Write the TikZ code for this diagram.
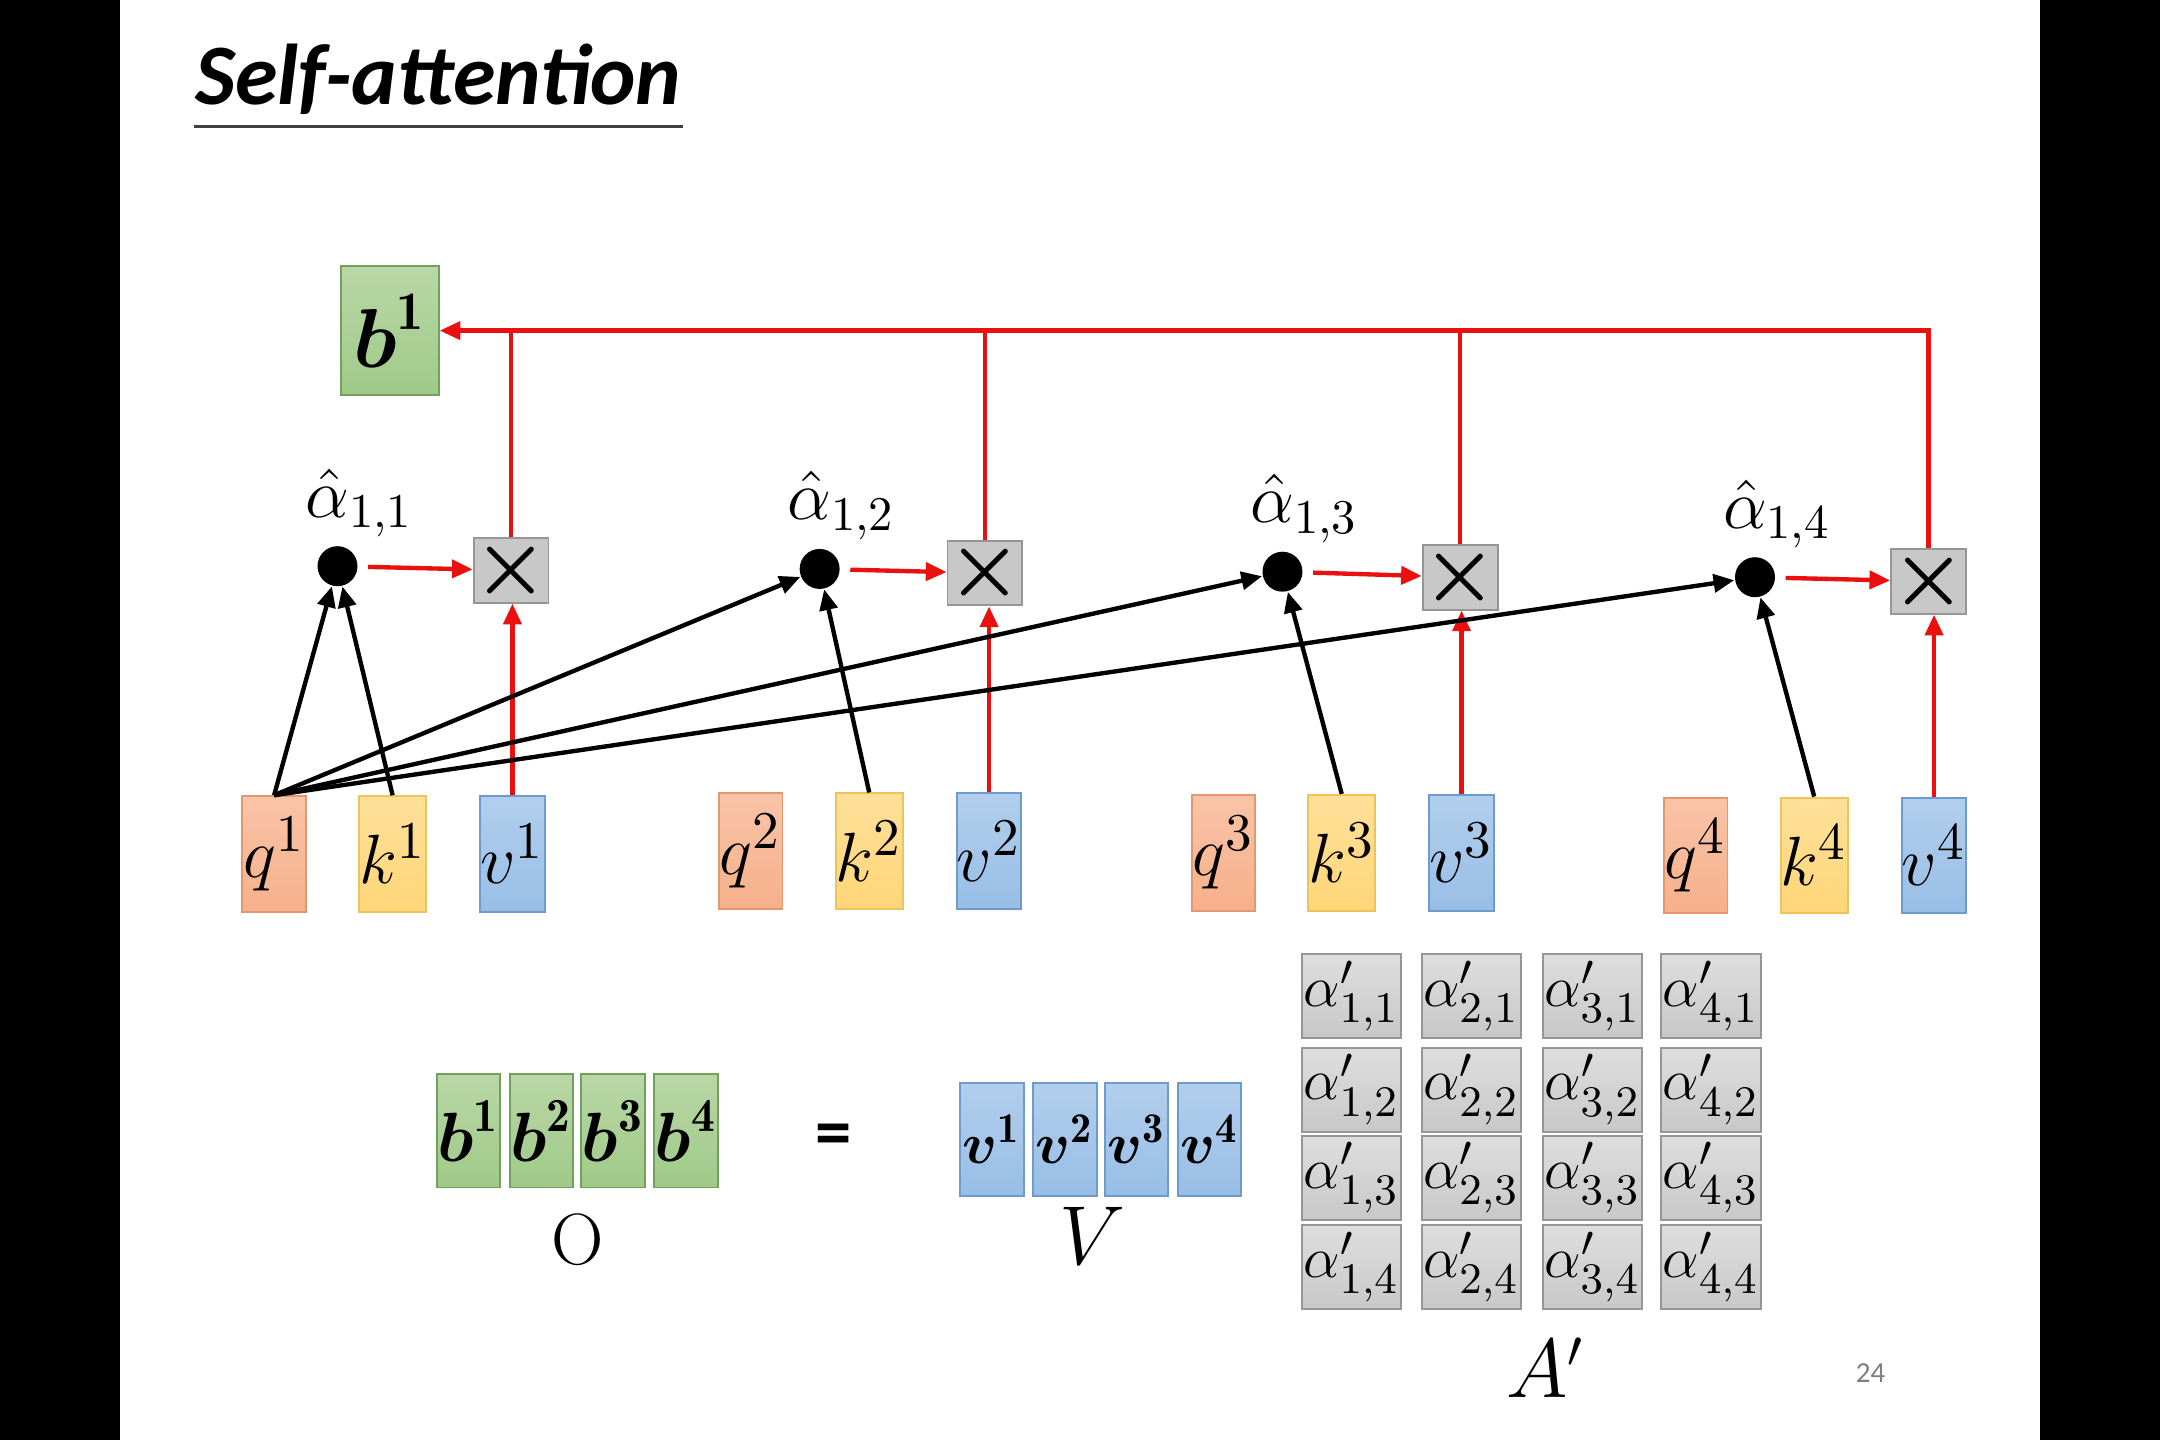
\documentclass[tikz,border=0pt]{standalone}
\usepackage{fontspec}
\newfontfamily\titlefont{Carlito}
\usepackage{amsmath}
\usepackage{xcolor}
\usetikzlibrary{arrows.meta, positioning, calc}
\definecolor{qorange}{RGB}{246, 176, 138}
\definecolor{qedge}{RGB}{228, 150, 110}
\definecolor{kyellow}{RGB}{255, 214, 120}
\definecolor{kedge}{RGB}{238, 196, 90}
\definecolor{vblue}{RGB}{152, 190, 230}
\definecolor{vedge}{RGB}{110, 155, 205}
\definecolor{bgreen}{RGB}{160, 202, 136}
\definecolor{bedge}{RGB}{115, 160, 95}
\definecolor{cellgray}{RGB}{200, 200, 200}
\definecolor{celledge}{RGB}{150, 150, 150}
\definecolor{linered}{RGB}{234, 16, 16}

\begin{document}
\begin{tikzpicture}[x=0.01cm, y=-0.01cm,
        arr/.style={-{Triangle[length=1.5mm, width=1.3mm]}, line width=0.9pt},
        redarr/.style={arr, linered},
        vec/.style={draw, minimum width=0.46cm, minimum height=0.84cm,
                    inner sep=0pt, font=\fontsize{15}{17}\selectfont},
        qbox/.style={vec, draw=qedge, top color=qorange!75!white, bottom color=qorange},
        kbox/.style={vec, draw=kedge, top color=kyellow!75!white, bottom color=kyellow},
        vbox/.style={vec, draw=vedge, top color=vblue!75!white, bottom color=vblue},
        bbox/.style={vec, draw=bedge, top color=bgreen!75!white, bottom color=bgreen},
        cell/.style={draw=celledge, top color=cellgray!60!white, bottom color=cellgray,
                     minimum width=0.72cm, minimum height=0.61cm, inner sep=0pt,
                     font=\fontsize{13}{14}\selectfont},
        mult/.style={draw=celledge, fill=cellgray, minimum width=0.44cm,
                     minimum height=0.47cm, inner sep=0pt},
        dot/.style={circle, fill=black, minimum size=0.29cm, inner sep=0pt}
      ]
        % Slide
        \fill[black] (0, 0) rectangle (1568, 1045);
        \fill[white] (87, 0) rectangle (1481, 1045);
        \node[font=\titlefont\bfseries\itshape\fontsize{17.8}{20}\selectfont,
              anchor=base west, inner sep=0pt] (title) at (141, 76) {Self-attention};
        \draw[line width=0.6pt, black!75] ([yshift=-0.16cm]title.base west)
          -- ([yshift=-0.16cm]title.base east);

        % Output b1
        \node[bbox, minimum width=0.71cm, minimum height=0.94cm,
              font=\fontsize{16}{18}\selectfont] (b1) at (283, 240) {$\boldsymbol{b}^{\mathbf{1}}$};

        % q, k, v
        \foreach \i/\x/\y in {1/199/620, 2/545/618, 3/888/619, 4/1231/621}{
          \node[qbox] (q\i) at (\x, \y) {$q^{\i}$};
          \node[kbox] (k\i) at (\x+86, \y) {$k^{\i}$};
          \node[vbox] (v\i) at (\x+173, \y) {$v^{\i}$};
        }

        % Scores
        \foreach \i/\x/\y in {1/245/411, 2/595/413, 3/931/415, 4/1274/419}{
          \node[dot] (a\i) at (\x, \y) {};
          \node[font=\fontsize{14}{15}\selectfont] (s\i) at (\x+16, \y-46)
            {$\hat{\alpha}_{1,\i}$};
        }

        % Products
        \foreach \i/\x/\y in {1/371/414, 2/715/416, 3/1060/419, 4/1400/422}{
          \node[mult] (m\i) at (\x, \y) {\fontsize{18}{18}\selectfont$\boldsymbol{\times}$};
        }

        % Connections
        \foreach \i in {1,...,4}{
          \draw[arr] (q1.north) -- (a\i);
          \draw[arr] (k\i.north) -- (a\i);
          \draw[redarr, shorten <=2pt] (a\i) -- (m\i);
          \draw[redarr] (v\i.north) -- (v\i.north |- m\i.south);
        }
        \foreach \i in {1,2,3}{
          \draw[linered, line width=0.9pt] (m\i.north) -- (m\i.north |- b1.east);
        }
        \draw[redarr] (m4.north) |- (b1.east);

        % O = V A'
        \foreach \i/\x in {1/340, 2/393, 3/445, 4/498}{
          \node[bbox, font=\fontsize{14}{16}\selectfont, minimum height=0.82cm]
            (o\i) at (\x, 821) {$\boldsymbol{b}^{\mathbf{\i}}$};
        }
        \node[font=\fontsize{15}{17}\selectfont] (olbl) at (419, 900) {$\mathrm{O}$};
        \node[font=\titlefont\bfseries\fontsize{15}{17}\selectfont] (eq) at (605, 828) {=};
        \foreach \i/\x in {1/720, 2/773, 3/825, 4/878}{
          \node[vbox, font=\fontsize{12.5}{15}\selectfont, minimum height=0.82cm]
            (w\i) at (\x, 827) {$\boldsymbol{v}^{\mathbf{\i}}$};
        }
        \node[font=\fontsize{16}{18}\selectfont] (vlbl) at (793, 897) {$V$};
        \foreach \c/\x in {1/981, 2/1068, 3/1156, 4/1242}{
          \foreach \r/\y in {1/723, 2/791, 3/855, 4/920}{
            \node[cell] (c\c\r) at (\x, \y) {$\alpha'_{\c,\r}$};
          }
        }
        \node[font=\fontsize{16}{18}\selectfont] (albl) at (1122, 993) {$A'$};
        \node[font=\titlefont\fontsize{6}{7}\selectfont, gray] (page) at (1358, 997) {24};
      \end{tikzpicture}
\end{document}
